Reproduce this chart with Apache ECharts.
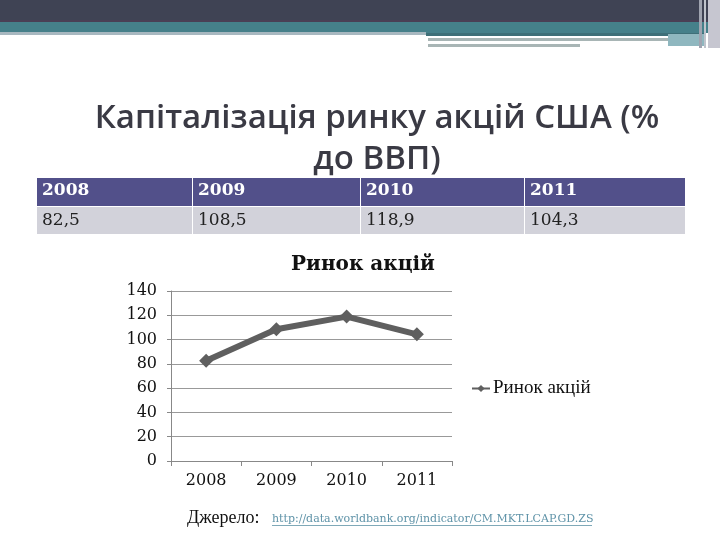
<!DOCTYPE html>
<html>
<head>
<meta charset="utf-8">
<script src="https://cdn.jsdelivr.net/npm/echarts@6/dist/echarts.min.js"></script>
<style>
  html, body { margin: 0; padding: 0; background: #fff; }
  #main { width: 720px; height: 540px; }
</style>
</head>
<body>
<div id="main"></div>
<script>
var years = ['2008', '2009', '2010', '2011'];
var capValues = [82.5, 108.5, 118.9, 104.3];
var seriesName = 'Ринок акцій';
var slideTitle = 'Капіталізація ринку акцій США (%\nдо ВВП)';
var sourceLabel = 'Джерело:';
var sourceUrl = 'http://data.worldbank.org/indicator/CM.MKT.LCAP.GD.ZS';

var chart = echarts.init(document.getElementById('main'));
var serif = '"DejaVu Serif", "Liberation Serif", serif';
var times = '"Liberation Serif", serif';

// таблиця над графіком
var colX = [37, 193, 361, 525, 686];
var tableEls = [];
years.forEach(function (y, i) {
    var w = colX[i + 1] - colX[i];
    tableEls.push({
        type: 'rect', shape: { x: colX[i], y: 178, width: w - 1, height: 28 },
        style: { fill: '#52508a' }
    });
    tableEls.push({
        type: 'rect', shape: { x: colX[i], y: 207, width: w - 1, height: 27 },
        style: { fill: '#d2d2da' }
    });
    tableEls.push({
        type: 'text', x: colX[i] + 5, y: 191,
        style: { text: y, fill: '#fff', font: 'bold 17px ' + serif, verticalAlign: 'middle' }
    });
    tableEls.push({
        type: 'text', x: colX[i] + 5, y: 221,
        style: { text: String(capValues[i]).replace('.', ','), fill: '#222', font: '17px ' + serif, verticalAlign: 'middle' }
    });
});

// декоративні смуги вгорі
var decor = [
    { type: 'rect', shape: { x: 0, y: 0, width: 720, height: 22 }, style: { fill: '#3f4354' } },
    { type: 'rect', shape: { x: 0, y: 20, width: 720, height: 2 }, style: { fill: '#4a3f55' } },
    { type: 'rect', shape: { x: 0, y: 22, width: 720, height: 11 }, style: { fill: '#46808a' } },
    { type: 'rect', shape: { x: 0, y: 32, width: 426, height: 3 }, style: { fill: '#a8b8c0' } },
    { type: 'rect', shape: { x: 426, y: 33, width: 280, height: 3 }, style: { fill: '#3e6f78' } },
    { type: 'rect', shape: { x: 428, y: 38, width: 240, height: 3 }, style: { fill: '#a8b5b5' } },
    { type: 'rect', shape: { x: 428, y: 44, width: 152, height: 3 }, style: { fill: '#a8b5b5' } },
    { type: 'rect', shape: { x: 668, y: 34, width: 36, height: 12 }, style: { fill: '#8fb7bf' } },
    { type: 'rect', shape: { x: 699, y: 0, width: 3, height: 48 }, style: { fill: '#a0a4b0' } },
    { type: 'rect', shape: { x: 704, y: 0, width: 2, height: 48 }, style: { fill: '#c0c4cc' } },
    { type: 'rect', shape: { x: 708, y: 0, width: 12, height: 48 }, style: { fill: '#c6c6d0' } }
];

var sourceEls = [
    { type: 'text', x: 187, y: 518, style: { text: sourceLabel, fill: '#111', font: '18px ' + times, verticalAlign: 'middle' } },
    { type: 'text', x: 272, y: 519, style: { text: sourceUrl, fill: '#5f93a8', font: '11px ' + serif, verticalAlign: 'middle' } },
    { type: 'rect', shape: { x: 272, y: 525, width: 320, height: 1 }, style: { fill: '#7fa9b8' } }
];

chart.setOption({
    backgroundColor: '#fff',
    animation: false,
    title: [{
        text: slideTitle,
        left: 372, top: 93, textAlign: 'center',
        textStyle: { fontFamily: '"Open Sans", sans-serif', fontWeight: 600, fontSize: 33, color: '#3a3a44', lineHeight: 41, align: 'center' }
    }, {
        text: seriesName,
        left: 358, top: 250, textAlign: 'center',
        textStyle: { fontFamily: serif, fontWeight: 'bold', fontSize: 20, color: '#111' }
    }],
    legend: {
        data: [seriesName],
        left: 466, top: 374,
        itemWidth: 18, itemHeight: 9, itemGap: 4,
        textStyle: { fontFamily: times, fontSize: 19, color: '#111', padding: [0, 0, 0, -2] }
    },
    grid: { left: 171, right: 268, top: 291, bottom: 79 },
    xAxis: {
        type: 'category',
        data: years,
        boundaryGap: true,
        axisLine: { lineStyle: { color: '#888' } },
        axisTick: { show: true, length: 5, lineStyle: { color: '#888' } },
        axisLabel: { fontFamily: serif, fontSize: 16, color: '#111', margin: 12 }
    },
    yAxis: {
        type: 'value',
        min: 0, max: 140, interval: 20,
        axisLine: { show: true, lineStyle: { color: '#888' } },
        axisTick: { show: true, length: 4, lineStyle: { color: '#888' } },
        axisLabel: { fontFamily: serif, fontSize: 16, color: '#111', margin: 14 },
        splitLine: { lineStyle: { color: '#999', width: 1 } }
    },
    series: [{
        name: seriesName,
        type: 'line',
        data: capValues,
        symbol: 'diamond',
        symbolSize: 14,
        lineStyle: { color: '#5f5f5f', width: 6 },
        itemStyle: { color: '#5f5f5f' }
    }],
    graphic: decor.concat(tableEls, sourceEls)
});
</script>
</body>
</html>
